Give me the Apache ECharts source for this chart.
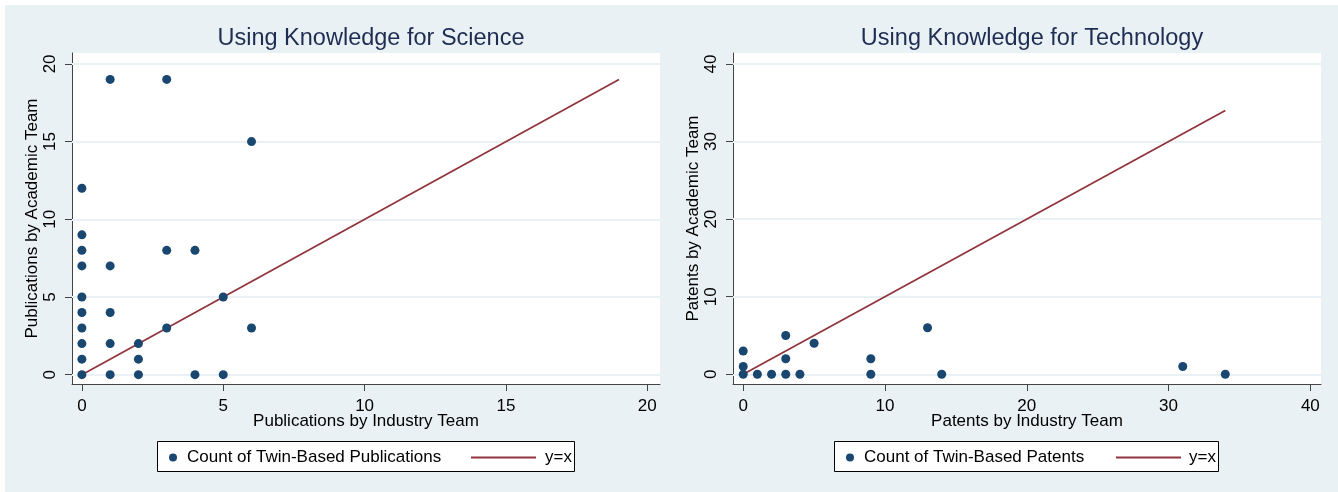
<!DOCTYPE html>
<html>
<head>
<meta charset="utf-8">
<script src="https://cdn.jsdelivr.net/npm/echarts@6/dist/echarts.min.js"></script>
<style>html,body{margin:0;padding:0;background:#fff}#c{width:1338px;height:492px}</style>
</head>
<body>
<div id="c"></div>
<script>
// ---- data ----
const sciIndustry = [0,0,0,0,0,0,0,0,0,0, 1,1,1,1,1, 2,2,2, 3,3,3, 4,4, 5,5, 6,6];
const sciAcademic = [12,9,8,7,5,4,3,2,1,0, 19,7,4,2,0, 2,1,0, 19,8,3, 8,0, 5,0, 15,3];
const techIndustry = [0,0,0,1,2,3,3,3,4,5,9,9,13,14,31,34];
const techAcademic = [0,1,3,0,0,0,2,5,0,4,0,2,6,0,1,0];
const sciLineEnds = [0, 19];
const techLineEnds = [0, 34];
const sciTicks = [0,5,10,15,20];
const techTicks = [0,10,20,30,40];
const titles = ['Using Knowledge for Science', 'Using Knowledge for Technology'];
const xNames = ['Publications by Industry Team', 'Patents by Industry Team'];
const yNames = ['Publications by Academic Team', 'Patents by Academic Team'];
const scatterNames = ['Count of Twin-Based Publications', 'Count of Twin-Based Patents'];
const lineName = 'y=x';

// ---- styling ----
const BG = '#e9f1f4';
const NAVY = '#1a476f';
const MAROON = '#90353b';
const AXIS = '#444';
const FONT = 'Liberation Sans, Arial, sans-serif';

const pairs = (xs, ys) => xs.map((x, i) => [x, ys[i]]);
const linePts = ends => ends.map(v => [v, v]);

const grids = [
  {left: 72, top: 53, width: 588, height: 331},
  {left: 733, top: 53, width: 588, height: 331}
];
const ranges = [
  {x: [-0.35, 20.45], y: [-0.6, 20.7], ticks: sciTicks},
  {x: [-0.72, 40.75], y: [-1.25, 41.42], ticks: techTicks}
];

function xAxis(i) {
  return {
    type: 'value', gridIndex: i, min: ranges[i].x[0], max: ranges[i].x[1],
    name: xNames[i], nameLocation: 'middle', nameGap: 29, nameMoveOverlap: false,
    nameTextStyle: {fontFamily: FONT, fontSize: 17, color: '#000'},
    axisLine: {show: true, onZero: false, lineStyle: {color: AXIS, width: 1}},
    axisTick: {show: true, length: 7, customValues: ranges[i].ticks, lineStyle: {color: AXIS}},
    axisLabel: {customValues: ranges[i].ticks, fontFamily: FONT, fontSize: 17, color: '#000', margin: 14},
    splitLine: {show: false}
  };
}
function yAxis(i) {
  return {
    type: 'value', gridIndex: i, min: ranges[i].y[0], max: ranges[i].y[1],
    name: yNames[i], nameLocation: 'middle', nameGap: 30, nameRotate: 90,
    nameTextStyle: {fontFamily: FONT, fontSize: 17, color: '#000'},
    axisLine: {show: true, onZero: false, lineStyle: {color: AXIS, width: 1}},
    axisTick: {show: true, length: 7, customValues: ranges[i].ticks, lineStyle: {color: AXIS}},
    axisLabel: {customValues: ranges[i].ticks, rotate: 90, fontFamily: FONT, fontSize: 17, color: '#000', margin: 13},
    splitLine: {show: false}
  };
}

const legendText = {fontFamily: FONT, fontSize: 17, color: '#000'};
const option = {
  backgroundColor: BG,
  animation: false,
  title: [0, 1].map(i => ({
    text: titles[i], left: grids[i].left + grids[i].width / 2, top: 22, textAlign: 'center',
    textStyle: {fontFamily: FONT, fontSize: 23.5, fontWeight: 'normal', color: '#1f2d52'}
  })),
  grid: grids.map(g => Object.assign({show: true, backgroundColor: '#fff', borderWidth: 0}, g)),
  xAxis: [xAxis(0), xAxis(1)],
  yAxis: [yAxis(0), yAxis(1)],
  legend: [
    {data: [{name: scatterNames[0], icon: 'circle'}], left: 164, top: 444, itemWidth: 8, itemHeight: 8, z: 10,
     textStyle: Object.assign({padding: [0, 0, 0, 5]}, legendText)},
    {data: [{name: lineName + ' ', icon: 'rect'}], left: 466, top: 444, itemWidth: 65, itemHeight: 2, z: 10,
     itemStyle: {color: MAROON, borderWidth: 0}, lineStyle: {width: 0},
     textStyle: Object.assign({padding: [0, 0, 0, 4]}, legendText)},
    {data: [{name: scatterNames[1], icon: 'circle'}], left: 841, top: 444, itemWidth: 8, itemHeight: 8, z: 10,
     textStyle: Object.assign({padding: [0, 0, 0, 5]}, legendText)},
    {data: [{name: lineName, icon: 'rect'}], left: 1111, top: 444, itemWidth: 65, itemHeight: 2, z: 10,
     itemStyle: {color: MAROON, borderWidth: 0}, lineStyle: {width: 0},
     textStyle: Object.assign({padding: [0, 0, 0, 3]}, legendText)}
  ],
  graphic: [
    {type: 'rect', shape: {x: 0, y: 0, width: 1338, height: 5}, style: {fill: '#fff'}, silent: true},
    {type: 'rect', shape: {x: 0, y: 0, width: 5, height: 492}, style: {fill: '#fff'}, silent: true},
    {type: 'rect', shape: {x: 157.5, y: 441.5, width: 417, height: 30}, style: {fill: '#fff', stroke: '#000', lineWidth: 1}, z: 1, silent: true},
    {type: 'rect', shape: {x: 834.5, y: 441.5, width: 384, height: 30}, style: {fill: '#fff', stroke: '#000', lineWidth: 1}, z: 1, silent: true}
  ],
  series: [
    {
      type: 'scatter', name: scatterNames[0], xAxisIndex: 0, yAxisIndex: 0,
      data: pairs(sciIndustry, sciAcademic), symbolSize: 9, itemStyle: {color: NAVY, opacity: 1}, z: 5,
      markLine: {silent: true, symbol: 'none', label: {show: false}, z: 1,
        lineStyle: {color: BG, width: 2, type: 'solid'},
        data: sciTicks.map(v => ({yAxis: v}))}
    },
    {
      type: 'line', name: lineName + ' ', xAxisIndex: 0, yAxisIndex: 0,
      data: linePts(sciLineEnds), showSymbol: false, symbol: 'none', z: 4,
      lineStyle: {color: MAROON, width: 1.8}, itemStyle: {color: MAROON}
    },
    {
      type: 'scatter', name: scatterNames[1], xAxisIndex: 1, yAxisIndex: 1,
      data: pairs(techIndustry, techAcademic), symbolSize: 9, itemStyle: {color: NAVY, opacity: 1}, z: 5,
      markLine: {silent: true, symbol: 'none', label: {show: false}, z: 1,
        lineStyle: {color: BG, width: 2, type: 'solid'},
        data: techTicks.map(v => ({yAxis: v}))}
    },
    {
      type: 'line', name: lineName, xAxisIndex: 1, yAxisIndex: 1,
      data: linePts(techLineEnds), showSymbol: false, symbol: 'none', z: 4,
      lineStyle: {color: MAROON, width: 1.8}, itemStyle: {color: MAROON}
    }
  ]
};
const chart = echarts.init(document.getElementById('c'), null, {renderer: 'canvas'});
chart.setOption(option);
</script>
</body>
</html>
